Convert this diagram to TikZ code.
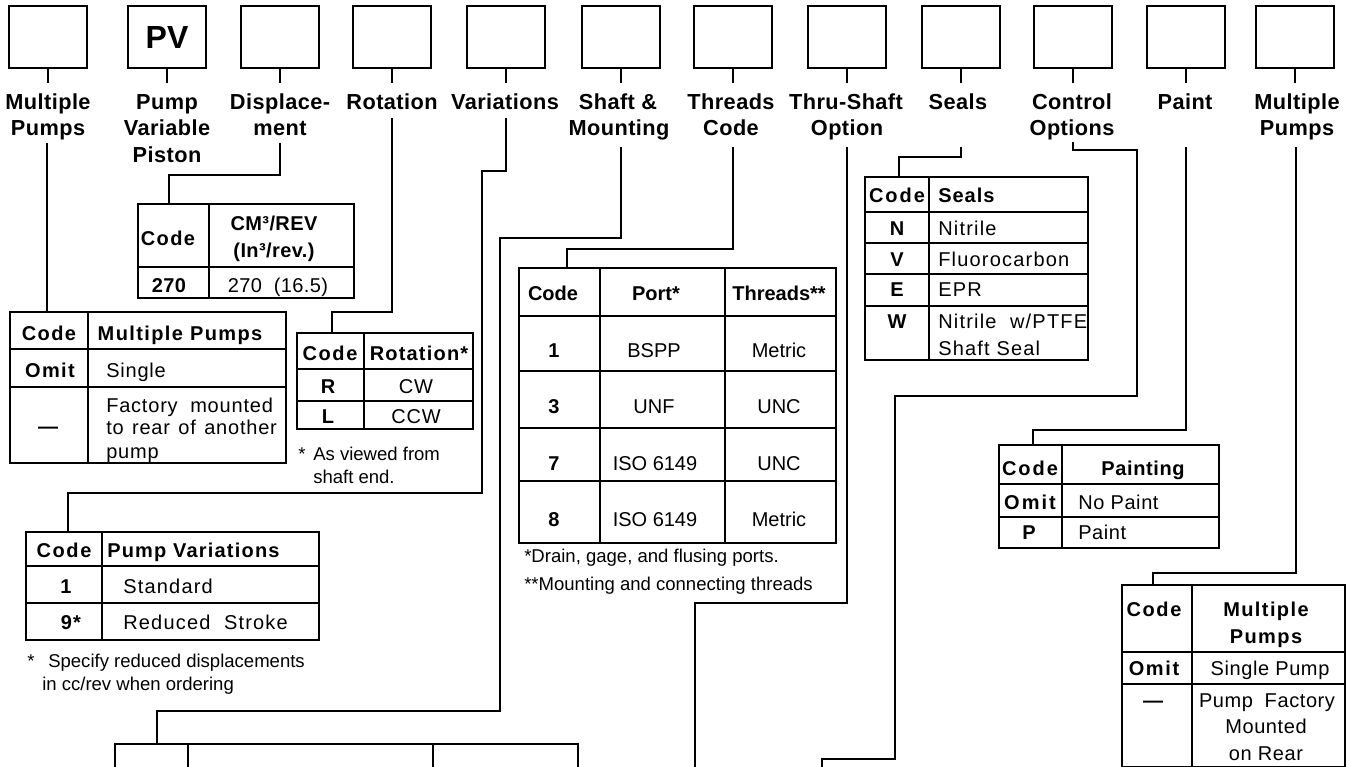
\documentclass[tikz,border=0pt]{standalone}
\usepackage{fontspec}
\setmainfont{Liberation Sans}
\usetikzlibrary{fit}
\begin{document}
\begin{tikzpicture}[x=0.75pt,y=-0.75pt,
 topbox/.style={draw,line width=1.6pt,minimum width=58.5pt,minimum height=46.5pt,inner sep=0pt},
 lab/.style={font=\fontsize{16.3}{19}\selectfont\bfseries\addfontfeature{LetterSpace=2},anchor=base,inner sep=0pt},
 conn/.style={line width=1.3pt},
 tabframe/.style={draw,line width=1.3pt,inner sep=0pt},
 tabline/.style={line width=1.1pt},
 th/.style={font=\fontsize{15}{18}\selectfont\bfseries\addfontfeature{LetterSpace=#1},anchor=base,inner sep=0pt},
 th/.default=6,
 td/.style={font=\fontsize{15}{18}\selectfont\addfontfeature{LetterSpace=#1},anchor=base,inner sep=0pt},
 td/.default=4,
 fn/.style={font=\fontsize{13.9}{16}\selectfont,anchor=base west,inner sep=0pt}
]
\useasboundingbox (0,0) rectangle (1350,767);
\fill[white] (0,0) rectangle (1350,767);

% ---- top boxes ----
\node[topbox] (b1) at (48,37) {};
\node[topbox,font=\fontsize{24}{24}\selectfont\bfseries] (b2) at (167,37) {PV};
\node[topbox] (b3) at (280,37) {};
\node[topbox] (b4) at (392,37) {};
\node[topbox] (b5) at (506,37) {};
\node[topbox] (b6) at (621,37) {};
\node[topbox] (b7) at (733,37) {};
\node[topbox] (b8) at (847,37) {};
\node[topbox] (b9) at (961,37) {};
\node[topbox] (b10) at (1073,37) {};
\node[topbox] (b11) at (1186,37) {};
\node[topbox] (b12) at (1295,37) {};
\foreach \i in {1,...,12} \draw[conn] (b\i.south) -- ++(0,14);

% ---- labels ----
\node[lab] (l1a) at (48,109) {Multiple};
\node[lab] (l1b) at (48,135) {Pumps};
\node[lab] (l2a) at (167,109) {Pump};
\node[lab] (l2b) at (167,135) {Variable};
\node[lab] (l2c) at (167,162) {Piston};
\node[lab] (l3a) at (280,109) {Displace-};
\node[lab] (l3b) at (280,135) {ment};
\node[lab] (l4a) at (392,109) {Rotation};
\node[lab] (l5a) at (505,109) {Variations};
\node[lab] (l6a) at (618,109) {Shaft \&};
\node[lab] (l6b) at (619,135) {Mounting};
\node[lab] (l7a) at (731,109) {Threads};
\node[lab] (l7b) at (731,135) {Code};
\node[lab] (l8a) at (846,109) {Thru-Shaft};
\node[lab] (l8b) at (847,135) {Option};
\node[lab] (l9a) at (958,109) {Seals};
\node[lab] (l10a) at (1072,109) {Control};
\node[lab] (l10b) at (1072,135) {Options};
\node[lab] (l11a) at (1185,109) {Paint};
\node[lab] (l12a) at (1297,109) {Multiple};
\node[lab] (l12b) at (1297,135) {Pumps};

% ---- Displacement table ----
\node[tabframe,fit={(138,204)(354,298)}] (tD) {};
\draw[tabline] (209,204) -- (209,298) (138,267) -- (354,267);
\node[th=7] (tD1) at (168,245) {Code};
\node[th=2] (tD2) at (274,230) {CM³/REV};
\node[th=2] (tD3) at (274,257) {(In³/rev.)};
\node[th=2] (tD4) at (169,292) {270};
\node[td=2] (tD5) at (278,292) {270\ \ (16.5)};

% ---- Multiple pumps (left) ----
\node[tabframe,fit={(10,312)(286,463)}] (tM) {};
\draw[tabline] (88,312) -- (88,463) (10,349) -- (286,349) (10,387) -- (286,387);
\node[th=7] (tM1) at (49,340) {Code};
\node[th=7] (tM2) at (180,340) {Multiple\ Pumps};
\node[th=7] (tM3) at (50,377) {Omit};
\node[td,anchor=base west] (tM4) at (106,377) {Single};
\node[th=0] (tM5) at (48,433) {—};
\node[td,anchor=base west] (tM6) at (106,412) {\makebox[125pt][s]{Factory mounted}};
\node[td,anchor=base west] (tM7) at (106,434) {\makebox[128pt][s]{to rear of another}};
\node[td,anchor=base west] (tM8) at (106,458) {pump};

% ---- Rotation ----
\node[tabframe,fit={(297,333)(473,429)}] (tR) {};
\draw[tabline] (364,333) -- (364,429) (297,369) -- (473,369) (297,401) -- (473,401);
\node[th=8] (tR1) at (330,360) {Code};
\node[th=6] (tR2) at (419,360) {Rotation*};
\node[th] (tR3) at (328,393) {R};
\node[td] (tR4) at (416,393) {CW};
\node[th] (tR5) at (328,423) {L};
\node[td] (tR6) at (416,423) {CCW};
\node[fn] (fR1) at (298,460) {*};
\node[fn] (fR2) at (313,460) {As viewed from};
\node[fn] (fR3) at (313,483) {shaft end.};

% ---- Pump variations ----
\node[tabframe,fit={(26,532)(319,640)}] (tV) {};
\draw[tabline] (102,532) -- (102,640) (26,566) -- (319,566) (26,603) -- (319,603);
\node[th=8] (tV1) at (64,557) {Code};
\node[th=6,anchor=base west] (tV2) at (107,557) {Pump\ Variations};
\node[th] (tV3) at (66,593) {1};
\node[td=6,anchor=base west] (tV4) at (123,593) {Standard};
\node[th=6] (tV5) at (71,629) {9*};
\node[td=6,anchor=base west] (tV6) at (123,629) {Reduced\ \ Stroke};
\node[fn] (fV1) at (27,667) {*};
\node[fn] (fV2) at (48,667) {Specify reduced displacements};
\node[fn] (fV3) at (42,690) {in cc/rev when ordering};

% ---- Threads ----
\node[tabframe,fit={(519,268)(836,543)}] (tT) {};
\draw[tabline] (600,268) -- (600,543) (725,268) -- (725,543)
  (519,316) -- (836,316) (519,371) -- (836,371) (519,428) -- (836,428) (519,481) -- (836,481);
\node[th=0] (tT1) at (553,300) {Code};
\node[th=0] (tT2) at (656,300) {Port*};
\node[th=0] (tT3) at (779,300) {Threads**};
\node[th=0] (tT4) at (554,357) {1};
\node[td=0] (tT5) at (654,357) {BSPP};
\node[td=0] (tT6) at (779,357) {Metric};
\node[th=0] (tT7) at (554,413) {3};
\node[td=0] (tT8) at (654,413) {UNF};
\node[td=0] (tT9) at (779,413) {UNC};
\node[th=0] (tT10) at (554,470) {7};
\node[td=0] (tT11) at (655,470) {ISO 6149};
\node[td=0] (tT12) at (779,470) {UNC};
\node[th=0] (tT13) at (554,526) {8};
\node[td=0] (tT14) at (655,526) {ISO 6149};
\node[td=0] (tT15) at (779,526) {Metric};
\node[fn] (fT1) at (524,562) {*Drain, gage, and flusing ports.};
\node[fn] (fT2) at (524,590) {**Mounting and connecting threads};

% ---- Seals ----
\node[tabframe,fit={(865,177)(1088,360)}] (tS) {};
\draw[tabline] (929,177) -- (929,360) (865,212) -- (1088,212) (865,243) -- (1088,243)
  (865,274) -- (1088,274) (865,306) -- (1088,306);
\node[th=10] (tS1) at (897,202) {Code};
\node[th=5,anchor=base west] (tS2) at (938,202) {Seals};
\node[th] (tS3) at (897,235) {N};
\node[td=6,anchor=base west] (tS4) at (938,235) {Nitrile};
\node[th] (tS5) at (897,266) {V};
\node[td=6,anchor=base west] (tS6) at (938,266) {Fluorocarbon};
\node[th] (tS7) at (897,296) {E};
\node[td=6,anchor=base west] (tS8) at (938,296) {EPR};
\node[th] (tS9) at (897,328) {W};
\node[td=6,anchor=base west] (tS10) at (938,328) {Nitrile\ \ w/PTFE};
\node[td=6,anchor=base west] (tS11) at (938,355) {Shaft\ Seal};

% ---- Painting ----
\node[tabframe,fit={(999,445)(1219,548)}] (tP) {};
\draw[tabline] (1062,445) -- (1062,548) (999,484) -- (1219,484) (999,517) -- (1219,517);
\node[th=10] (tP1) at (1030,475) {Code};
\node[th=3] (tP2) at (1143,475) {Painting};
\node[th=10] (tP3) at (1030,509) {Omit};
\node[td=3,anchor=base west] (tP4) at (1078,509) {No Paint};
\node[th] (tP5) at (1029,539) {P};
\node[td=3,anchor=base west] (tP6) at (1078,539) {Paint};

% ---- Multiple pumps (right) ----
\node[tabframe,fit={(1122,585)(1345,767)}] (tN) {};
\draw[tabline] (1192,585) -- (1192,767) (1122,652) -- (1345,652) (1122,684) -- (1345,684);
\node[th=8] (tN1) at (1154,616) {Code};
\node[th=7] (tN2) at (1266,616) {Multiple};
\node[th=7] (tN3) at (1266,643) {Pumps};
\node[th=8] (tN4) at (1154,675) {Omit};
\node[td=3] (tN5) at (1270,675) {Single Pump};
\node[th=0] (tN6) at (1153,707) {—};
\node[td=3] (tN7) at (1267,707) {\makebox[102pt][s]{Pump Factory}};
\node[td=3] (tN8) at (1266,733) {Mounted};
\node[td=3] (tN9) at (1266,760) {on Rear};

% ---- bottom (cut) table ----
\draw[tabline] (115,767) -- (115,744) -- (578,744) -- (578,767) (188,744) -- (188,767) (433,744) -- (433,767);

% ---- connectors ----
\coordinate (s1) at (47,143);
\coordinate (s3) at (280,143);
\coordinate (s4) at (392,118);
\coordinate (s5) at (506,118);
\coordinate (s6) at (621,147);
\coordinate (s7) at (733,147);
\coordinate (s8) at (847,147);
\coordinate (s9) at (961,147);
\coordinate (s10) at (1073,142);
\coordinate (s11) at (1186,147);
\coordinate (s12) at (1296,147);
\coordinate (e8) at (695,767);
\coordinate (e10) at (822,767);
\coordinate (e6) at (157,744);

\draw[conn] (s1) -- (s1 |- tM.north);
\draw[conn] (s3) -- (280,175) -| (tD.north -| 169,0);
\draw[conn] (s4) -- (392,312) -| (tR.north -| 332,0);
\draw[conn] (s5) -- (506,171) -| (482,493) -| (tV.north -| 68,0);
\draw[conn] (s6) -- (621,238) -| (500,711) -| (e6);
\draw[conn] (s7) -- (733,249) -| (tT.north -| 567,0);
\draw[conn] (s8) -- (847,603) -| (e8);
\draw[conn] (s9) -- (961,157) -| (tS.north -| 899,0);
\draw[conn] (s10) -- (1073,150) -| (1137,396) -| (895,759) -| (e10);
\draw[conn] (s11) -- (1186,430) -| (tP.north -| 1033,0);
\draw[conn] (s12) -- (1296,573) -| (tN.north -| 1153,0);
\end{tikzpicture}
\end{document}
